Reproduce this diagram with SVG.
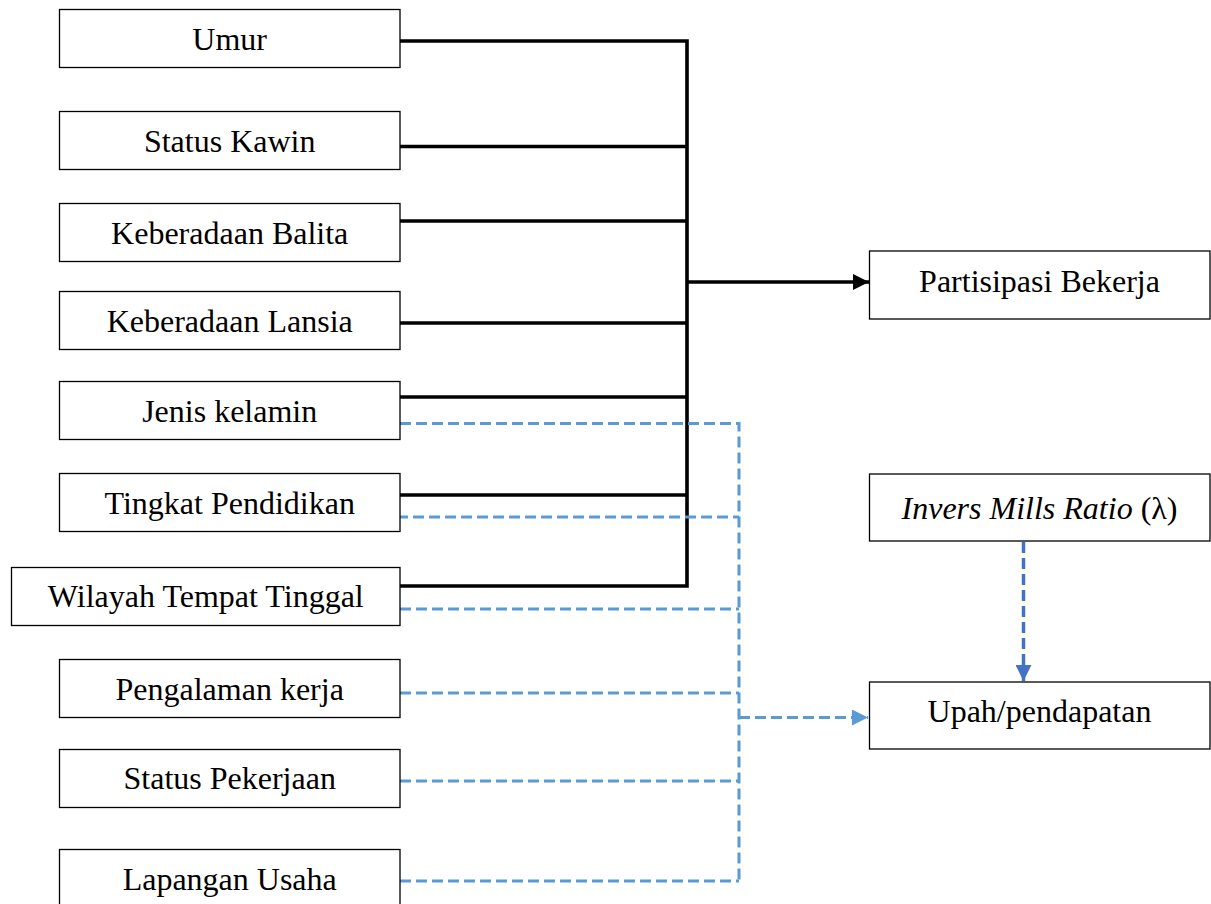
<svg xmlns="http://www.w3.org/2000/svg" width="1211" height="904" viewBox="0 0 1211 904">
<style>
.box{fill:#fff;stroke:#000;stroke-width:1.3}
.lbl{font-family:"Liberation Serif","Times New Roman",serif;font-size:32px;fill:#000;text-anchor:middle}
.blk{fill:none;stroke:#000;stroke-width:3.6}
.dsh{fill:none;stroke:#5B9BD5;stroke-width:3;stroke-dasharray:11 5}
.dsh2{fill:none;stroke:#4472C4;stroke-width:3.5;stroke-dasharray:11 5}
</style>
<defs>
<marker id="ahBlack" markerUnits="userSpaceOnUse" markerWidth="17" markerHeight="16" refX="16" refY="8" orient="auto">
<path d="M0,0 L16,8 L0,16 Z" fill="#000"/>
</marker>
<marker id="ahBlue" markerUnits="userSpaceOnUse" markerWidth="17" markerHeight="16" refX="16" refY="8" orient="auto">
<path d="M0,0 L16,8 L0,16 Z" fill="#5B9BD5"/>
</marker>
<marker id="ahDark" markerUnits="userSpaceOnUse" markerWidth="17" markerHeight="16" refX="16" refY="8" orient="auto">
<path d="M0,0 L16,8 L0,16 Z" fill="#4472C4"/>
</marker>
</defs>
<rect width="1211" height="904" fill="#fff"/>
<g id="connectors">
<polyline class="blk" points="400,41 687,41 687,586 400,586"/>
<line class="blk" x1="400" y1="146.5" x2="687" y2="146.5"/>
<line class="blk" x1="400" y1="221" x2="687" y2="221"/>
<line class="blk" x1="400" y1="323" x2="687" y2="323"/>
<line class="blk" x1="400" y1="397" x2="687" y2="397"/>
<line class="blk" x1="400" y1="495" x2="687" y2="495"/>
<line class="blk" x1="687" y1="282" x2="869" y2="282" marker-end="url(#ahBlack)"/>
<polyline class="dsh" points="400,423.5 739,423.5 739,881"/>
<line class="dsh" x1="400" y1="881" x2="739" y2="881"/>
<line class="dsh" x1="397" y1="517" x2="739" y2="517"/>
<line class="dsh" x1="400" y1="609" x2="739" y2="609"/>
<line class="dsh" x1="400" y1="693" x2="739" y2="693"/>
<line class="dsh" x1="400" y1="781" x2="739" y2="781"/>
<line class="dsh" x1="739" y1="717.5" x2="868" y2="717.5" marker-end="url(#ahBlue)"/>
<line class="dsh2" x1="1023.5" y1="542" x2="1023.5" y2="681" marker-end="url(#ahDark)"/>
</g>
<g id="umur"><rect class="box" x="59.5" y="9.5" width="340.5" height="58"/><text class="lbl" x="229.7" y="49.5">Umur</text></g>
<g id="status-kawin"><rect class="box" x="59.5" y="111.5" width="340.5" height="58"/><text class="lbl" x="229.7" y="151.5">Status Kawin</text></g>
<g id="keberadaan-balita"><rect class="box" x="59.5" y="203.5" width="340.5" height="58"/><text class="lbl" x="229.7" y="243.5">Keberadaan Balita</text></g>
<g id="keberadaan-lansia"><rect class="box" x="59.5" y="291.5" width="340.5" height="58"/><text class="lbl" x="229.7" y="331.5">Keberadaan Lansia</text></g>
<g id="jenis-kelamin"><rect class="box" x="59.5" y="381.5" width="340.5" height="58"/><text class="lbl" x="229.7" y="421.5">Jenis kelamin</text></g>
<g id="tingkat-pendidikan"><rect class="box" x="59.5" y="473.5" width="340.5" height="58"/><text class="lbl" x="229.7" y="513.5">Tingkat Pendidikan</text></g>
<g id="wilayah-tempat-tinggal"><rect class="box" x="11.5" y="567.5" width="388.5" height="58"/><text class="lbl" x="205.8" y="607">Wilayah Tempat Tinggal</text></g>
<g id="pengalaman-kerja"><rect class="box" x="59.5" y="659.5" width="340.5" height="58"/><text class="lbl" x="229.7" y="700">Pengalaman kerja</text></g>
<g id="status-pekerjaan"><rect class="box" x="59.5" y="749.5" width="340.5" height="58"/><text class="lbl" x="229.7" y="789">Status Pekerjaan</text></g>
<g id="lapangan-usaha"><rect class="box" x="59.5" y="849.5" width="340.5" height="60"/><text class="lbl" x="229.7" y="889.5">Lapangan Usaha</text></g>
<g id="partisipasi-bekerja"><rect class="box" x="869.5" y="251" width="340.5" height="68"/><text class="lbl" x="1039.5" y="292">Partisipasi Bekerja</text></g>
<g id="invers-mills-ratio"><rect class="box" x="869.5" y="474" width="340.5" height="67"/><text class="lbl" x="1039.5" y="519"><tspan font-style="italic">Invers Mills Ratio</tspan> (λ)</text></g>
<g id="upah-pendapatan"><rect class="box" x="869.5" y="682" width="340.5" height="67"/><text class="lbl" x="1039.5" y="722">Upah/pendapatan</text></g>
</svg>
